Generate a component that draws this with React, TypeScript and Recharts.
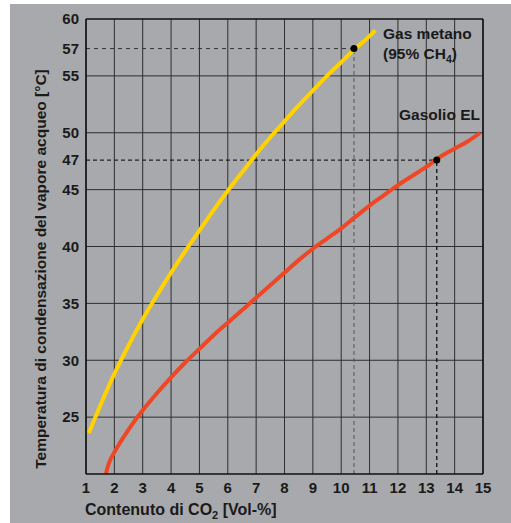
import React from 'react';
import { LineChart, Line, XAxis, YAxis, CartesianGrid, ReferenceLine, ReferenceDot } from 'recharts';

const xTicks = [1, 2, 3, 4, 5, 6, 7, 8, 9, 10, 11, 12, 13, 14, 15];
// 47 and 57 sit slightly off their true values in the source drawing
const yTicks = [25, 30, 35, 40, 45, 47.6, 50, 55, 57.4, 60];
const yTickLabels = ['25', '30', '35', '40', '45', '47', '50', '55', '57', '60'];
const yGrid = [25, 30, 35, 40, 45, 50, 55];

const gasX = [1.1, 1.5, 2, 2.5, 3, 3.5, 4, 4.5, 5, 5.5, 6, 6.5, 7, 7.5, 8, 8.5, 9, 9.5, 10, 10.5, 11, 11.2];
const gasY = [23.6, 26.0, 28.8, 31.3, 33.6, 35.7, 37.7, 39.6, 41.4, 43.2, 44.9, 46.5, 48.1, 49.6, 51.0, 52.4, 53.7, 55.0, 56.2, 57.4, 58.5, 59.0];

const oilX = [1.7, 1.8, 2, 2.5, 3, 3.5, 4, 4.5, 5, 5.5, 6, 6.5, 7, 7.5, 8, 8.5, 9, 9.5, 10, 10.5, 11, 11.5, 12, 12.5, 13, 13.5, 14, 14.5, 14.9];
const oilY = [20.0, 20.9, 21.9, 23.9, 25.6, 27.1, 28.5, 29.8, 31.0, 32.2, 33.3, 34.4, 35.5, 36.6, 37.7, 38.8, 39.8, 40.7, 41.6, 42.6, 43.6, 44.5, 45.4, 46.2, 47.0, 47.9, 48.6, 49.3, 50.0];

const gasMark = { x: 10.45, y: 57.4 };
const oilMark = { x: 13.37, y: 47.6 };

const gasData = gasX.map((x, i) => ({ x, y: gasY[i] }));
const oilData = oilX.map((x, i) => ({ x, y: oilY[i] }));

const font = '"Liberation Sans", Arial, sans-serif';
const gridColor = '#2e2e2e';
const textColor = '#1a1a1a';

export default function App() {
  return (
    <div style={{ position: 'absolute', left: 0, top: 0, width: 511, height: 523, background: '#fff' }}>
      <div style={{ position: 'absolute', left: 10, top: 4, width: 501, height: 519, background: '#a7a9ac' }} />
      <div style={{ position: 'absolute', left: 0, top: 0 }}>
        <LineChart width={511} height={523} margin={{ top: 19, right: 28, bottom: 19, left: 10 }}>
          <CartesianGrid horizontal={false} stroke={gridColor} strokeWidth={1} />
          {yGrid.map((v) => (
            <ReferenceLine key={v} y={v} stroke={gridColor} strokeWidth={1} />
          ))}
          <ReferenceLine y={60} stroke="#111" strokeWidth={1.5} />
          <ReferenceLine x={15} stroke="#111" strokeWidth={1.5} />
          <XAxis
            type="number"
            dataKey="x"
            domain={[1, 15]}
            ticks={xTicks}
            allowDataOverflow
            height={30}
            tickLine={false}
            tickSize={0}
            tickMargin={8}
            axisLine={{ stroke: '#111', strokeWidth: 1.5 }}
            tick={{ fill: textColor, fontSize: 15, fontWeight: 700, fontFamily: font }}
          />
          <YAxis
            type="number"
            dataKey="y"
            domain={[20, 60]}
            ticks={yTicks}
            allowDataOverflow
            width={76}
            tickLine={false}
            tickSize={0}
            tickMargin={7}
            interval={0}
            tickFormatter={(v: number) => yTickLabels[yTicks.indexOf(v)]}
            axisLine={{ stroke: '#111', strokeWidth: 1.5 }}
            tick={{ fill: textColor, fontSize: 15, fontWeight: 700, fontFamily: font }}
          />
          <ReferenceLine
            segment={[{ x: 1, y: gasMark.y }, { x: gasMark.x, y: gasMark.y }]}
            stroke="#333"
            strokeDasharray="4 4"
          />
          <ReferenceLine
            segment={[{ x: gasMark.x, y: 20 }, { x: gasMark.x, y: gasMark.y }]}
            stroke="#555"
            strokeDasharray="4 3"
          />
          <ReferenceLine
            segment={[{ x: 1, y: oilMark.y }, { x: oilMark.x, y: oilMark.y }]}
            stroke="#222"
            strokeDasharray="4 3"
            strokeWidth={1.3}
          />
          <ReferenceLine
            segment={[{ x: oilMark.x, y: 20 }, { x: oilMark.x, y: oilMark.y }]}
            stroke="#111"
            strokeDasharray="4 3"
            strokeWidth={1.3}
          />
          <Line
            data={gasData}
            dataKey="y"
            type="monotone"
            stroke="#ffd200"
            strokeWidth={4}
            dot={false}
            isAnimationActive={false}
          />
          <Line
            data={oilData}
            dataKey="y"
            type="monotone"
            stroke="#ef4626"
            strokeWidth={4}
            dot={false}
            isAnimationActive={false}
          />
          <ReferenceDot x={gasMark.x} y={gasMark.y} r={3.5} fill="#000" stroke="none" />
          <ReferenceDot x={oilMark.x} y={oilMark.y} r={3.5} fill="#000" stroke="none" />
          <text x={383} y={39} fontFamily={font} fontSize={15.5} fontWeight={700} fill={textColor}>
            Gas metano
          </text>
          <text x={383} y={59} fontFamily={font} fontSize={15.5} fontWeight={700} fill={textColor}>
            (95% CH<tspan fontSize={10.5} dy={4}>4</tspan>
            <tspan dy={-4}>)</tspan>
          </text>
          <text x={399} y={120} fontFamily={font} fontSize={15.5} fontWeight={700} fill={textColor}>
            Gasolio EL
          </text>
          <text x={85} y={515} fontFamily={font} fontSize={16} fontWeight={700} fill={textColor}>
            Contenuto di CO<tspan fontSize={11} dy={4}>2</tspan>
            <tspan dy={-4}> [Vol-%]</tspan>
          </text>
          <text
            x={46}
            y={269}
            transform="rotate(-90 46 269)"
            textAnchor="middle"
            fontFamily={font}
            fontSize={15.5}
            fontWeight={700}
            fill={textColor}
          >
            Temperatura di condensazione del vapore acqueo [°C]
          </text>
        </LineChart>
      </div>
    </div>
  );
}
